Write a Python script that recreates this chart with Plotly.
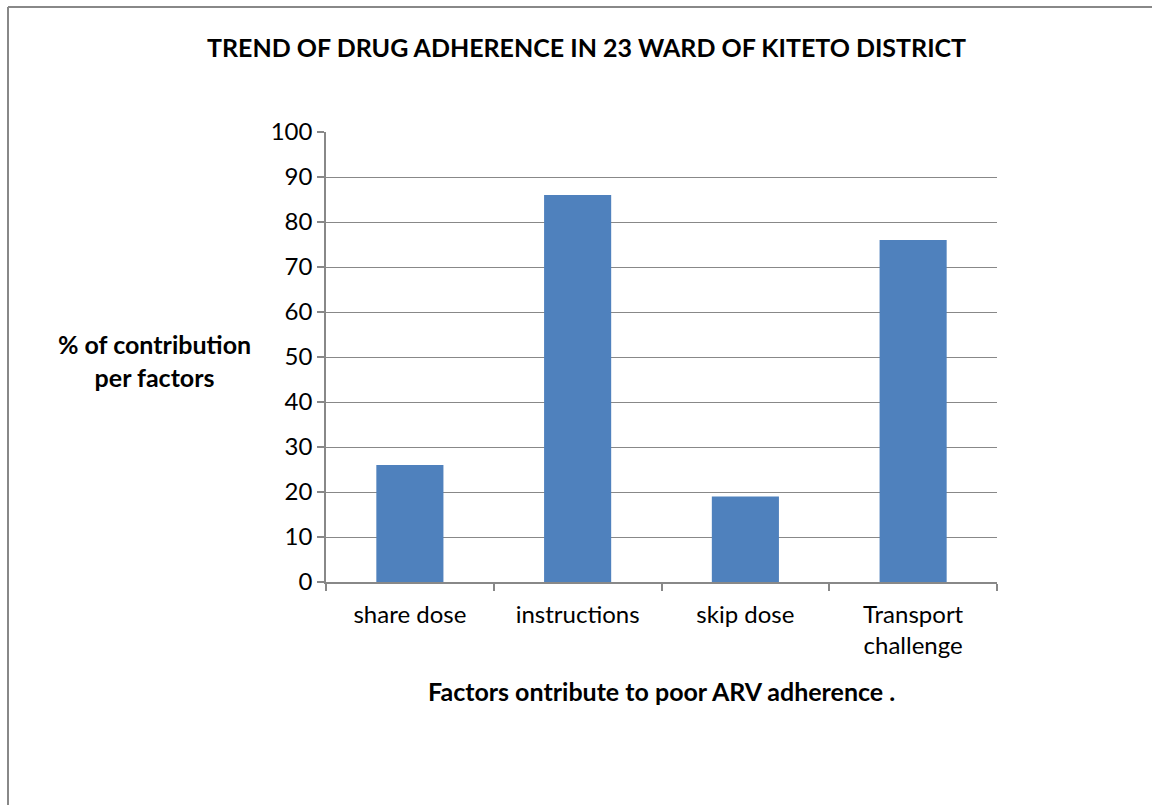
import plotly.graph_objects as go

categories = ["share dose", "instructions", "skip dose", "Transport<br>challenge"]
values = [26, 86, 19, 76]
y_ticks = [0, 10, 20, 30, 40, 50, 60, 70, 80, 90, 100]

W, H = 1152, 805
L, R, T, B = 326, 1152 - 997, 132, 805 - 582
pw, ph = W - L - R, H - T - B

def px(x):
    return (x - L) / pw

def py(y):
    return (H - B - y) / ph

FONT = "Lato, Carlito, Calibri, sans-serif"

fig = go.Figure(go.Bar(x=categories, y=values, marker=dict(color="#4F81BD", line=dict(width=0)), width=0.4))

fig.update_layout(
    width=W, height=H,
    margin=dict(l=L, r=R, t=T, b=B),
    paper_bgcolor="white", plot_bgcolor="white",
    font=dict(family=FONT, color="black"),
    showlegend=False,
    bargap=0.6,
)
fig.update_xaxes(
    showline=True, linecolor="#888888", linewidth=1.5,
    ticks="outside", tickson="boundaries", ticklen=7, tickcolor="#888888", tickwidth=1.5,
    tickfont=dict(size=24, family=FONT), showgrid=False, ticklabelstandoff=10,
)
fig.update_yaxes(
    range=[0, 100], tickvals=y_ticks,
    showline=True, linecolor="#888888", linewidth=1.5,
    ticks="outside", ticklen=7, tickcolor="#888888", tickwidth=1.5,
    showgrid=True, gridcolor="#888888", gridwidth=1.2,
    tickfont=dict(size=24, family=FONT), zeroline=False,
)

fig.add_annotation(text="<b>TREND OF DRUG ADHERENCE IN 23 WARD OF KITETO DISTRICT</b>",
                   xref="paper", yref="paper", x=px(586), y=py(47), showarrow=False,
                   font=dict(size=25, family=FONT), xanchor="center", yanchor="middle")
fig.add_annotation(text="<b>% of contribution<br>per factors</b>",
                   xref="paper", yref="paper", x=px(154), y=py(360), showarrow=False,
                   font=dict(size=25, family=FONT), xanchor="center", yanchor="middle")
fig.add_annotation(text="<b>Factors ontribute to poor ARV adherence .</b>",
                   xref="paper", yref="paper", x=px(661), y=py(691), showarrow=False,
                   font=dict(size=25, family=FONT), xanchor="center", yanchor="middle")

fig.add_shape(type="line", xref="paper", yref="paper", x0=px(8), x1=px(8), y0=py(7), y1=py(830),
              line=dict(color="#888888", width=2))
fig.add_shape(type="line", xref="paper", yref="paper", x0=px(8), x1=px(1180), y0=py(7), y1=py(7),
              line=dict(color="#888888", width=2))

fig.write_html("out.html")
